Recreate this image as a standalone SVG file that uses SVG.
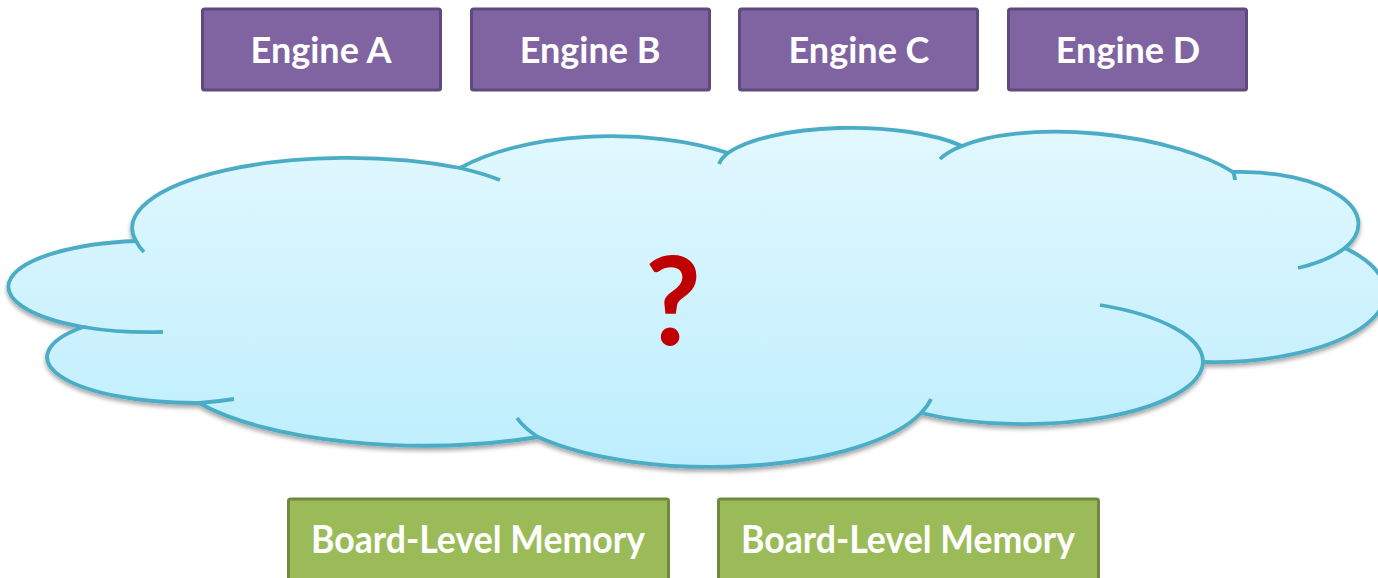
<svg xmlns="http://www.w3.org/2000/svg" width="1378" height="578" viewBox="0 0 1378 578">
  <defs>
    <linearGradient id="cloudFill" x1="0" y1="0" x2="0" y2="1">
      <stop offset="0" stop-color="#E2F8FE"/>
      <stop offset="1" stop-color="#BDEEFD"/>
    </linearGradient>
    <filter id="cloudShadow" x="-5%" y="-10%" width="110%" height="125%">
      <feDropShadow dx="0" dy="3" stdDeviation="2" flood-color="#000" flood-opacity="0.35"/>
    </filter>
  </defs>
  <style>
    .engine rect { fill: #8064A2; stroke: #5E4A7E; stroke-width: 3; }
    .memory rect { fill: #9BBB59; stroke: #71893F; stroke-width: 3; }
    .label { font-family: Lato, "Open Sans", "Liberation Sans", sans-serif; font-weight: 700; fill: #FFFFFF; text-anchor: middle; }
    .engine .label { font-size: 36px; }
    .memory .label { font-size: 38px; }
    .cloud-body { fill: url(#cloudFill); stroke: #4BACC6; stroke-width: 3.8; stroke-linejoin: miter; }
    .cloud-edge { fill: none; stroke: #4BACC6; stroke-width: 3.8; }
    .mystery { font-family: Lato, "Open Sans", "Liberation Sans", sans-serif; font-weight: 700; font-size: 122px; fill: #C00000; text-anchor: middle; }
  </style>

  <!-- processing engines -->
  <g id="engine-a" class="engine">
    <rect x="202.5" y="9" width="238" height="81" rx="2"/>
    <text class="label" x="321" y="63">Engine A</text>
  </g>
  <g id="engine-b" class="engine">
    <rect x="471.5" y="9" width="238" height="81" rx="2"/>
    <text class="label" x="590" y="63">Engine B</text>
  </g>
  <g id="engine-c" class="engine">
    <rect x="739.5" y="9" width="238" height="81" rx="2"/>
    <text class="label" x="859" y="63">Engine C</text>
  </g>
  <g id="engine-d" class="engine">
    <rect x="1008.5" y="9" width="238" height="81" rx="2"/>
    <text class="label" x="1128" y="63">Engine D</text>
  </g>

  <!-- unknown interconnect cloud -->
  <g id="cloud">
    <path class="cloud-body" filter="url(#cloudShadow)" d="M 136 241
      A 216 70 0 0 1 460 168
      A 190 80 0 0 1 728 153
      A 135 42.5 0 0 1 962 146
      A 162 55 6 0 1 1233 172
      A 118 52 0 0 1 1345 248
      A 172 69.5 0 0 1 1203 362
      A 180 63 0 0 1 921 413
      A 222 80 0 0 1 538 437
      A 260 85 0 0 1 199 403
      A 148 46 0 0 1 83 327
      A 144 46 0 0 1 136 241 Z"/>
    <!-- inner lobe continuations -->
    <path class="cloud-edge" d="M 144 252 A 216 70 0 0 1 136 241"/>
    <path class="cloud-edge" d="M 460 168 A 216 70 0 0 1 500 180"/>
    <path class="cloud-edge" d="M 719 164 A 135 42.5 0 0 1 728 153"/>
    <path class="cloud-edge" d="M 940 159 A 162 55 6 0 1 962 146"/>
    <path class="cloud-edge" d="M 1233 172 A 162 55 6 0 1 1235 180"/>
    <path class="cloud-edge" d="M 1345 248 A 118 52 0 0 1 1298 268"/>
    <path class="cloud-edge" d="M 1100 305 A 180 63 0 0 1 1203 362"/>
    <path class="cloud-edge" d="M 931 399 A 222 80 0 0 1 921 413"/>
    <path class="cloud-edge" d="M 538 437 A 222 80 0 0 1 517 418"/>
    <path class="cloud-edge" d="M 234 399 A 148 46 0 0 1 199 403"/>
    <path class="cloud-edge" d="M 163 332 A 144 46 0 0 1 83 327"/>
    <text class="mystery" x="673" y="345">?</text>
  </g>

  <!-- memory banks -->
  <g id="memory-1" class="memory">
    <rect x="288.5" y="499" width="380" height="90" rx="2"/>
    <text class="label" x="478" y="553" textLength="334" lengthAdjust="spacingAndGlyphs">Board-Level Memory</text>
  </g>
  <g id="memory-2" class="memory">
    <rect x="718.5" y="499" width="380" height="90" rx="2"/>
    <text class="label" x="908" y="553" textLength="334" lengthAdjust="spacingAndGlyphs">Board-Level Memory</text>
  </g>
</svg>
